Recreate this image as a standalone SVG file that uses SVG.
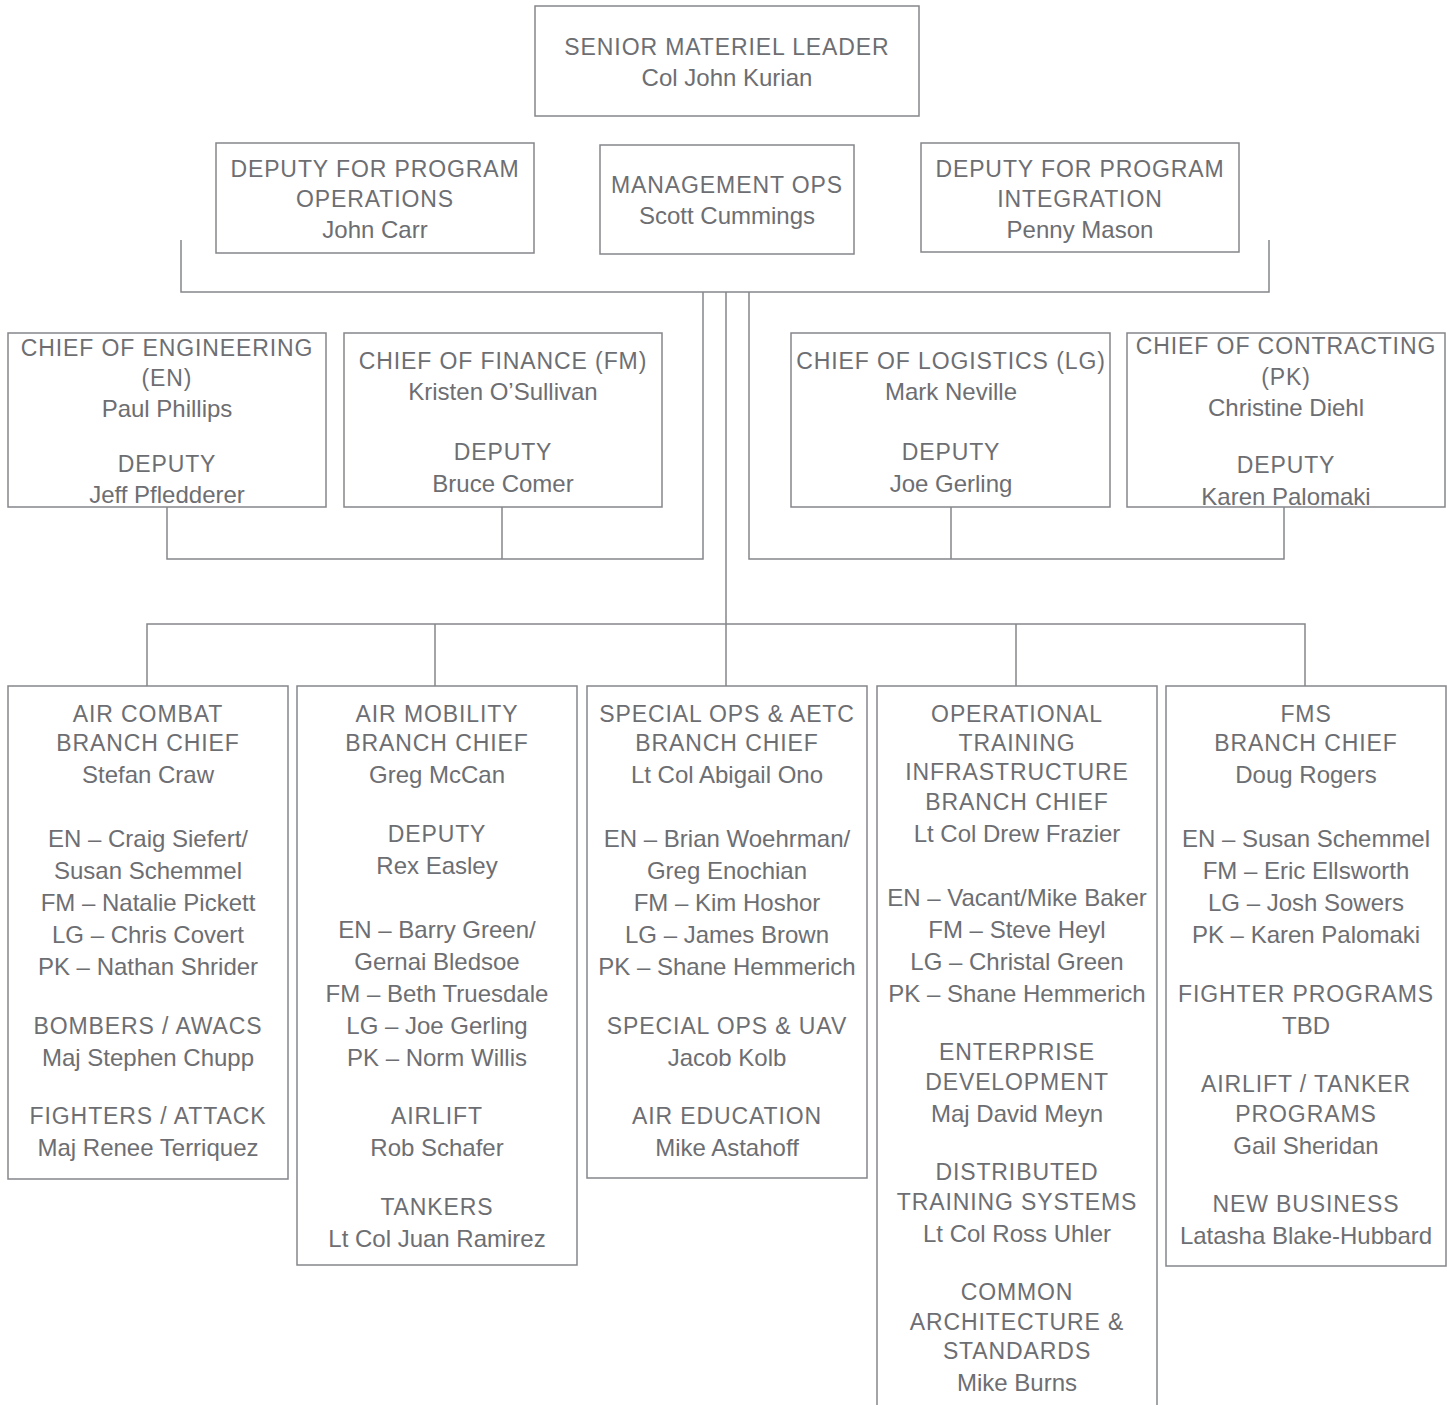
<svg xmlns="http://www.w3.org/2000/svg" width="1453" height="1405" viewBox="0 0 1453 1405">
<style>
.box{fill:#fff;stroke:#85868a;stroke-width:1.5}
.ln{fill:none;stroke:#85868a;stroke-width:1.5}
text{font-family:"Liberation Sans",Arial,sans-serif;fill:#6d6e72;text-anchor:middle}
.h{font-size:23px;letter-spacing:0.9px}
.n{font-size:24px}
</style>
<rect width="1453" height="1405" fill="#fff"/>
<g id="connectors">
<path class="ln" d="M181,240 V292 H1269 V240"/>
<path class="ln" d="M703,292 V559 H167 V507 M502,507 V559"/>
<path class="ln" d="M749,292 V559 H1284 V507 M951,507 V559"/>
<path class="ln" d="M726,292 V624"/>
<path class="ln" d="M147,686 V624 H1305 V686 M435,624 V686 M726,624 V686 M1016,624 V686"/>
</g>
<g id="senior-materiel-leader">
<rect class="box" x="535" y="6" width="384" height="110"/>
<text class="h" x="727" y="55">SENIOR MATERIEL LEADER</text>
<text class="n" x="727" y="86">Col John Kurian</text>
</g>
<g id="deputy-program-operations">
<rect class="box" x="216" y="143" width="318" height="110"/>
<text class="h" x="375" y="177">DEPUTY FOR PROGRAM</text>
<text class="h" x="375" y="207">OPERATIONS</text>
<text class="n" x="375" y="238">John Carr</text>
</g>
<g id="management-ops">
<rect class="box" x="600" y="145" width="254" height="109"/>
<text class="h" x="727" y="193">MANAGEMENT OPS</text>
<text class="n" x="727" y="224">Scott Cummings</text>
</g>
<g id="deputy-program-integration">
<rect class="box" x="921" y="143" width="318" height="109"/>
<text class="h" x="1080" y="177">DEPUTY FOR PROGRAM</text>
<text class="h" x="1080" y="207">INTEGRATION</text>
<text class="n" x="1080" y="238">Penny Mason</text>
</g>
<g id="chief-engineering">
<rect class="box" x="8" y="333" width="318" height="174"/>
<text class="h" x="167" y="356">CHIEF OF ENGINEERING</text>
<text class="h" x="167" y="386">(EN)</text>
<text class="n" x="167" y="417">Paul Phillips</text>
<text class="h" x="167" y="472">DEPUTY</text>
<text class="n" x="167" y="503">Jeff Pfledderer</text>
</g>
<g id="chief-finance">
<rect class="box" x="344" y="333" width="318" height="174"/>
<text class="h" x="503" y="369">CHIEF OF FINANCE (FM)</text>
<text class="n" x="503" y="400">Kristen O’Sullivan</text>
<text class="h" x="503" y="460">DEPUTY</text>
<text class="n" x="503" y="492">Bruce Comer</text>
</g>
<g id="chief-logistics">
<rect class="box" x="791" y="333" width="319" height="174"/>
<text class="h" x="951" y="369">CHIEF OF LOGISTICS (LG)</text>
<text class="n" x="951" y="400">Mark Neville</text>
<text class="h" x="951" y="460">DEPUTY</text>
<text class="n" x="951" y="492">Joe Gerling</text>
</g>
<g id="chief-contracting">
<rect class="box" x="1127" y="333" width="318" height="174"/>
<text class="h" x="1286" y="354">CHIEF OF CONTRACTING</text>
<text class="h" x="1286" y="385">(PK)</text>
<text class="n" x="1286" y="416">Christine Diehl</text>
<text class="h" x="1286" y="473">DEPUTY</text>
<text class="n" x="1286" y="505">Karen Palomaki</text>
</g>
<g id="air-combat">
<rect class="box" x="8" y="686" width="280" height="493"/>
<text class="h" x="148" y="722">AIR COMBAT</text>
<text class="h" x="148" y="751">BRANCH CHIEF</text>
<text class="n" x="148" y="783">Stefan Craw</text>
<text class="n" x="148" y="847">EN – Craig Siefert/</text>
<text class="n" x="148" y="879">Susan Schemmel</text>
<text class="n" x="148" y="911">FM – Natalie Pickett</text>
<text class="n" x="148" y="943">LG – Chris Covert</text>
<text class="n" x="148" y="975">PK – Nathan Shrider</text>
<text class="h" x="148" y="1034">BOMBERS / AWACS</text>
<text class="n" x="148" y="1066">Maj Stephen Chupp</text>
<text class="h" x="148" y="1124">FIGHTERS / ATTACK</text>
<text class="n" x="148" y="1156">Maj Renee Terriquez</text>
</g>
<g id="air-mobility">
<rect class="box" x="297" y="686" width="280" height="579"/>
<text class="h" x="437" y="722">AIR MOBILITY</text>
<text class="h" x="437" y="751">BRANCH CHIEF</text>
<text class="n" x="437" y="783">Greg McCan</text>
<text class="h" x="437" y="842">DEPUTY</text>
<text class="n" x="437" y="874">Rex Easley</text>
<text class="n" x="437" y="938">EN – Barry Green/</text>
<text class="n" x="437" y="970">Gernai Bledsoe</text>
<text class="n" x="437" y="1002">FM – Beth Truesdale</text>
<text class="n" x="437" y="1034">LG – Joe Gerling</text>
<text class="n" x="437" y="1066">PK – Norm Willis</text>
<text class="h" x="437" y="1124">AIRLIFT</text>
<text class="n" x="437" y="1156">Rob Schafer</text>
<text class="h" x="437" y="1215">TANKERS</text>
<text class="n" x="437" y="1247">Lt Col Juan Ramirez</text>
</g>
<g id="special-ops-aetc">
<rect class="box" x="587" y="686" width="280" height="492"/>
<text class="h" x="727" y="722">SPECIAL OPS &amp; AETC</text>
<text class="h" x="727" y="751">BRANCH CHIEF</text>
<text class="n" x="727" y="783">Lt Col Abigail Ono</text>
<text class="n" x="727" y="847">EN – Brian Woehrman/</text>
<text class="n" x="727" y="879">Greg Enochian</text>
<text class="n" x="727" y="911">FM – Kim Hoshor</text>
<text class="n" x="727" y="943">LG – James Brown</text>
<text class="n" x="727" y="975">PK – Shane Hemmerich</text>
<text class="h" x="727" y="1034">SPECIAL OPS &amp; UAV</text>
<text class="n" x="727" y="1066">Jacob Kolb</text>
<text class="h" x="727" y="1124">AIR EDUCATION</text>
<text class="n" x="727" y="1156">Mike Astahoff</text>
</g>
<g id="operational-training">
<path class="box" d="M877,1410 V686 H1157 V1410"/>
<text class="h" x="1017" y="722">OPERATIONAL</text>
<text class="h" x="1017" y="751">TRAINING</text>
<text class="h" x="1017" y="780">INFRASTRUCTURE</text>
<text class="h" x="1017" y="810">BRANCH CHIEF</text>
<text class="n" x="1017" y="842">Lt Col Drew Frazier</text>
<text class="n" x="1017" y="906">EN – Vacant/Mike Baker</text>
<text class="n" x="1017" y="938">FM – Steve Heyl</text>
<text class="n" x="1017" y="970">LG – Christal Green</text>
<text class="n" x="1017" y="1002">PK – Shane Hemmerich</text>
<text class="h" x="1017" y="1060">ENTERPRISE</text>
<text class="h" x="1017" y="1090">DEVELOPMENT</text>
<text class="n" x="1017" y="1122">Maj David Meyn</text>
<text class="h" x="1017" y="1180">DISTRIBUTED</text>
<text class="h" x="1017" y="1210">TRAINING SYSTEMS</text>
<text class="n" x="1017" y="1242">Lt Col Ross Uhler</text>
<text class="h" x="1017" y="1300">COMMON</text>
<text class="h" x="1017" y="1330">ARCHITECTURE &amp;</text>
<text class="h" x="1017" y="1359">STANDARDS</text>
<text class="n" x="1017" y="1391">Mike Burns</text>
</g>
<g id="fms">
<rect class="box" x="1166" y="686" width="280" height="580"/>
<text class="h" x="1306" y="722">FMS</text>
<text class="h" x="1306" y="751">BRANCH CHIEF</text>
<text class="n" x="1306" y="783">Doug Rogers</text>
<text class="n" x="1306" y="847">EN – Susan Schemmel</text>
<text class="n" x="1306" y="879">FM – Eric Ellsworth</text>
<text class="n" x="1306" y="911">LG – Josh Sowers</text>
<text class="n" x="1306" y="943">PK – Karen Palomaki</text>
<text class="h" x="1306" y="1002">FIGHTER PROGRAMS</text>
<text class="n" x="1306" y="1034">TBD</text>
<text class="h" x="1306" y="1092">AIRLIFT / TANKER</text>
<text class="h" x="1306" y="1122">PROGRAMS</text>
<text class="n" x="1306" y="1154">Gail Sheridan</text>
<text class="h" x="1306" y="1212">NEW BUSINESS</text>
<text class="n" x="1306" y="1244">Latasha Blake-Hubbard</text>
</g>
</svg>
